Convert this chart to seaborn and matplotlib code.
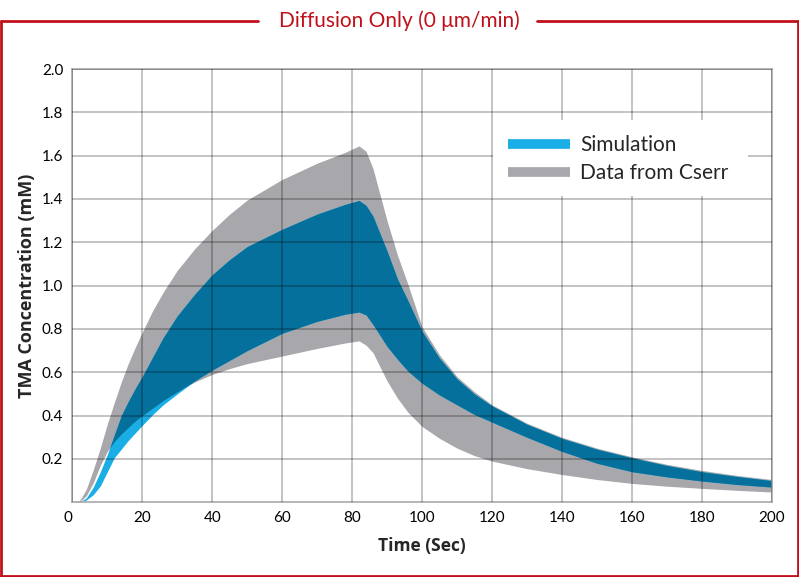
import matplotlib
matplotlib.use("Agg")
import numpy as np
import matplotlib.pyplot as plt
from matplotlib.lines import Line2D
from matplotlib.patches import Rectangle
import seaborn as sns

# time (s) and band edges (mM)
t = [0, 2, 4, 6, 8, 10, 12, 14, 16, 18, 20, 23, 26, 30, 35, 40, 45, 50, 60, 70, 78, 82,
     84, 86, 88, 90, 93, 96, 100, 105, 110, 115, 120, 130, 140, 150, 160, 170, 180, 190, 200]
cserr_hi = [0, 0.005, 0.06, 0.15, 0.25, 0.36, 0.46, 0.555, 0.64, 0.715, 0.785, 0.885, 0.97, 1.07, 1.17, 1.255, 1.33, 1.395, 1.49, 1.565, 1.615, 1.645,
            1.62, 1.54, 1.42, 1.30, 1.14, 1.005, 0.81, 0.68, 0.58, 0.51, 0.45, 0.365, 0.30, 0.25, 0.21, 0.175, 0.147, 0.124, 0.105]
cserr_lo = [0, 0.0, 0.03, 0.09, 0.17, 0.235, 0.28, 0.315, 0.345, 0.375, 0.40, 0.435, 0.47, 0.51, 0.555, 0.59, 0.617, 0.64, 0.675, 0.71, 0.735, 0.745,
            0.725, 0.69, 0.625, 0.56, 0.48, 0.415, 0.35, 0.295, 0.25, 0.215, 0.19, 0.155, 0.128, 0.105, 0.087, 0.074, 0.064, 0.055, 0.047]
sim_hi = [0, 0.0, 0.02, 0.07, 0.14, 0.22, 0.31, 0.40, 0.465, 0.525, 0.58, 0.67, 0.76, 0.86, 0.96, 1.05, 1.12, 1.18, 1.26, 1.33, 1.375, 1.393,
          1.37, 1.32, 1.24, 1.16, 1.03, 0.93, 0.79, 0.665, 0.57, 0.50, 0.445, 0.36, 0.295, 0.245, 0.205, 0.17, 0.141, 0.119, 0.10]
sim_lo = [0, 0.0, 0.01, 0.035, 0.075, 0.14, 0.205, 0.245, 0.285, 0.32, 0.355, 0.405, 0.45, 0.50, 0.56, 0.61, 0.655, 0.70, 0.78, 0.835, 0.868, 0.878,
          0.865, 0.82, 0.77, 0.72, 0.66, 0.605, 0.55, 0.495, 0.45, 0.405, 0.37, 0.30, 0.235, 0.18, 0.141, 0.117, 0.098, 0.082, 0.07]

x_ticks = list(range(0, 201, 20))
y_ticks = [0.2, 0.4, 0.6, 0.8, 1.0, 1.2, 1.4, 1.6, 1.8, 2.0]

GRAY = "#a8a8ac"
LIGHT_BLUE = "#1aaee6"
DARK_BLUE = "#05709c"
RED = "#c0101a"

sns.set_theme(style="whitegrid")
plt.rcParams["font.family"] = ["Lato", "DejaVu Sans"]

fig = plt.figure(figsize=(7.99, 5.77), dpi=100)
ax = fig.add_axes([0.0905, 0.1296, 0.8753, 0.7508])

t = np.array(t)
ghi, glo = np.array(cserr_hi), np.array(cserr_lo)
shi, slo = np.array(sim_hi), np.array(sim_lo)

# overlap of the two bands shows darker
ov_lo = np.maximum(glo, slo)
ov_hi = np.minimum(ghi, shi)

ax.fill_between(t, glo, ghi, color=GRAY, lw=0, zorder=1)
ax.fill_between(t, slo, shi, color=LIGHT_BLUE, lw=0, zorder=1.1)
ax.fill_between(t, ov_lo, ov_hi, where=ov_hi > ov_lo, interpolate=True,
                color=DARK_BLUE, lw=0, zorder=1.2)

ax.set_xlim(0, 200)
ax.set_ylim(0, 2.0)
ax.set_xticks(x_ticks)
ax.set_yticks(y_ticks)
ax.set_yticklabels([f"{v:.1f}" for v in y_ticks])
ax.set_axisbelow(False)
ax.grid(True, color="black", alpha=0.3, lw=1.1)
for s in ax.spines.values():
    s.set_visible(True)
    s.set_color("#a9a9a9")
    s.set_linewidth(1.2)
ax.tick_params(axis="both", length=0, labelsize=11, colors="black")
ax.tick_params(axis="x", pad=6)
ax.tick_params(axis="y", pad=6.5)
ax.get_xticklabels()[0].set_ha("right")

ax.set_xlabel("Time (Sec)", fontsize=12.5, fontweight="bold",
              family="Open Sans", labelpad=9)
ax.set_ylabel("TMA Concentration (mM)", fontsize=13, fontweight="bold",
              family="Open Sans", labelpad=4)

# white box behind the legend hides the grid
ax.add_patch(Rectangle((0.601, 0.707), 0.365, 0.175, transform=ax.transAxes,
                       facecolor="white", edgecolor="none", zorder=3))
handles = [Line2D([], [], color=LIGHT_BLUE, lw=7, solid_capstyle="butt"),
           Line2D([], [], color=GRAY, lw=7, solid_capstyle="butt")]
leg = ax.legend(handles, ["Simulation", "Data from Cserr"], loc="upper left",
                bbox_to_anchor=(0.603, 0.878), frameon=False,
                handlelength=3.0, handletextpad=0.5, labelspacing=0.38,
                borderpad=0.15, prop={"family": "Lato", "size": 15})
leg.set_zorder(4)

# red frame with the title sitting in the top edge
y_top = 1 - 21 / 577
for xs, ys in [([1 / 799, 258 / 799], [y_top, y_top]),
               ([537 / 799, 798 / 799], [y_top, y_top]),
               ([1 / 799, 1 / 799], [y_top, 1 / 577]),
               ([798 / 799, 798 / 799], [y_top, 1 / 577]),
               ([1 / 799, 798 / 799], [1 / 577, 1 / 577])]:
    fig.add_artist(Line2D(xs, ys, color=RED, lw=2, transform=fig.transFigure))
fig.text(0.5, y_top, "Diffusion Only (0 \u03bcm/min)", ha="center", va="center",
         color=RED, fontsize=15, family=["Lato", "DejaVu Sans"])

fig.savefig("out.png", dpi=100)
